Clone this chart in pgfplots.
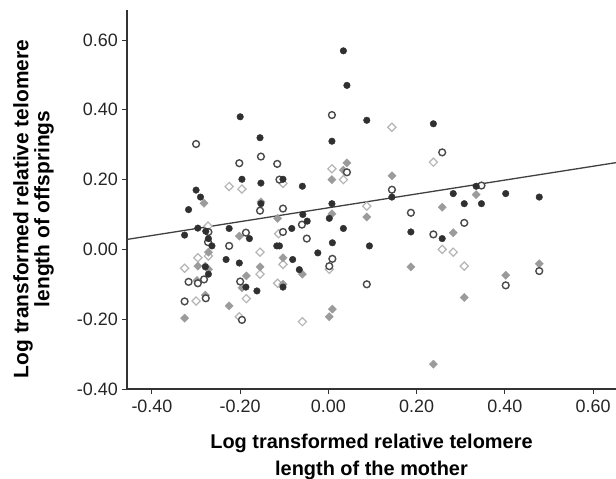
\documentclass[border=0pt]{standalone}
\usepackage{fontspec}
\setmainfont{Liberation Sans}
\usepackage{pgfplots}
\pgfplotsset{compat=1.18}

\definecolor{dotdark}{HTML}{303030}
\definecolor{ringdark}{HTML}{4A4A4A}
\definecolor{diagray}{HTML}{9B9B9B}
\definecolor{dialight}{HTML}{B5B5B5}
\definecolor{axisgray}{HTML}{333333}

\begin{document}
\begin{tikzpicture}
\path[use as bounding box] (-127bp,-90bp) rectangle (489bp,379bp+10bp);
\begin{axis}[
  at={(0,0)}, anchor=south west,
  scale only axis, width=489bp, height=379bp,
  xmin=-0.4566, xmax=0.652, ymin=-0.4, ymax=0.686,
  axis lines=left, axis line style={-, axisgray, line width=1.2bp},
  tick align=outside, major tick length=5bp,
  tick style={axisgray, line width=1bp},
  xtick={-0.4,-0.2,0,0.2,0.4,0.6},
  xticklabels={-0.40,-0.20,0.00,0.20,0.40,0.60},
  ytick={-0.4,-0.2,0,0.2,0.4,0.6},
  yticklabels={-0.40,-0.20,0.00,0.20,0.40,0.60},
  ticklabel style={font=\fontsize{18}{21}\selectfont, text=black!85, inner sep=0pt},
  xticklabel style={yshift=-6bp},
  yticklabel style={xshift=-4bp},
  xlabel={Log transformed relative telomere\\length of the mother},
  ylabel={Log transformed relative telomere\\length of offsprings},
  xlabel style={at={(axis description cs:0.5,-0.1187)}, anchor=north, inner sep=0pt,
    align=center, font=\fontsize{20}{27}\selectfont\bfseries},
  ylabel style={at={(axis description cs:-0.2330,0.475)}, anchor=north, inner sep=0pt,
    align=center, font=\fontsize{21}{21}\selectfont\bfseries},
  clip=false,
]
% open diamonds
\addplot[dialight, only marks, mark=square*, mark size=2.9bp,
  mark options={rotate=45, draw=dialight, fill=white, line width=1.2bp}] coordinates {
(0.144,0.35) (0.238,0.25) (0.008,0.231) (0.034,0.2) (-0.103,0.189)
(-0.225,0.18) (-0.196,0.173) (0.087,0.124) (-0.113,0.045) (-0.273,0.067)
(-0.155,-0.008) (-0.296,-0.024) (-0.272,-0.019) (-0.103,-0.043) (0.002,-0.057)
(-0.326,-0.054) (-0.155,-0.071) (-0.115,-0.097) (-0.30,-0.148) (-0.186,-0.141)
(-0.202,-0.193) (-0.059,-0.207) (0.258,0.0) (0.283,-0.008) (0.308,-0.048)
};
% filled diamonds
\addplot[diagray, only marks, mark=square*, mark size=2.9bp,
  mark options={rotate=45, draw=diagray, fill=diagray}] coordinates {
(0.042,0.248) (0.034,0.227) (0.008,0.2) (-0.282,0.132) (-0.153,0.136)
(0.008,0.102) (0.087,0.093) (-0.115,0.089) (-0.202,0.038) (-0.272,-0.008)
(-0.103,-0.024) (-0.059,-0.071) (-0.296,-0.048) (-0.279,-0.048) (-0.272,-0.057)
(-0.298,-0.089) (-0.186,-0.076) (-0.196,-0.11) (-0.155,-0.05) (-0.103,-0.1)
(-0.279,-0.131) (-0.225,-0.162) (-0.326,-0.197) (0.002,-0.193) (0.009,-0.171)
(0.144,0.211) (0.335,0.157) (0.258,0.121) (0.283,0.048) (0.187,-0.05)
(0.478,-0.041) (0.402,-0.074) (0.308,-0.138) (0.238,-0.329)
};
% open circles
\addplot[ringdark, only marks, mark=*, mark size=3.4bp,
  mark options={draw=ringdark, fill=white, line width=1.4bp}] coordinates {
(0.008,0.385) (-0.30,0.302) (-0.153,0.266) (-0.202,0.247) (-0.116,0.245)
(0.042,0.221) (-0.111,0.2) (-0.155,0.111) (-0.103,0.117) (-0.06,0.071)
(-0.103,0.05) (-0.187,0.048) (-0.272,0.05) (-0.273,0.021) (-0.225,0.01)
(-0.049,0.031) (0.009,-0.027) (0.002,-0.048) (0.087,-0.1) (-0.282,-0.086)
(-0.317,-0.093) (-0.296,-0.097) (-0.2,-0.092) (-0.326,-0.149) (-0.278,-0.14)
(-0.196,-0.202) (0.258,0.278) (0.144,0.171) (0.347,0.183) (0.187,0.105)
(0.308,0.076) (0.238,0.043) (0.478,-0.062) (0.402,-0.103)
};
% filled circles
\addplot[dotdark, only marks, mark=*, mark size=3.3bp,
  mark options={draw=dotdark, fill=dotdark}] coordinates {
(0.034,0.569) (0.042,0.47) (-0.2,0.38) (0.087,0.37) (-0.155,0.32)
(0.008,0.31) (-0.196,0.201) (-0.153,0.19) (-0.103,0.201) (-0.059,0.181)
(-0.30,0.17) (-0.29,0.15) (-0.317,0.114) (0.008,0.131) (-0.153,0.131)
(0.002,0.089) (-0.058,0.10) (-0.048,0.081) (-0.083,0.06) (0.034,0.06)
(-0.225,0.06) (-0.179,0.031) (-0.296,0.061) (-0.278,0.052) (-0.326,0.041)
(-0.272,0.031) (-0.264,0.01) (-0.117,0.01) (-0.111,0.01) (0.009,0.019)
(0.093,0.01) (-0.024,-0.01) (-0.232,-0.029) (-0.202,-0.039) (-0.081,-0.029)
(-0.066,-0.058) (-0.279,-0.05) (-0.272,-0.071) (-0.187,-0.108) (-0.162,-0.119)
(-0.103,-0.108) (0.238,0.36) (0.144,0.15) (0.335,0.181) (0.283,0.16)
(0.402,0.16) (0.478,0.15) (0.308,0.131) (0.347,0.131) (0.187,0.05)
(0.258,0.031)
};
% regression line
\addplot[no marks, color=black!75, line width=1.3bp] coordinates {
(-0.4566,0.0286) (0.652,0.2486)
};
\end{axis}
\end{tikzpicture}
\end{document}
